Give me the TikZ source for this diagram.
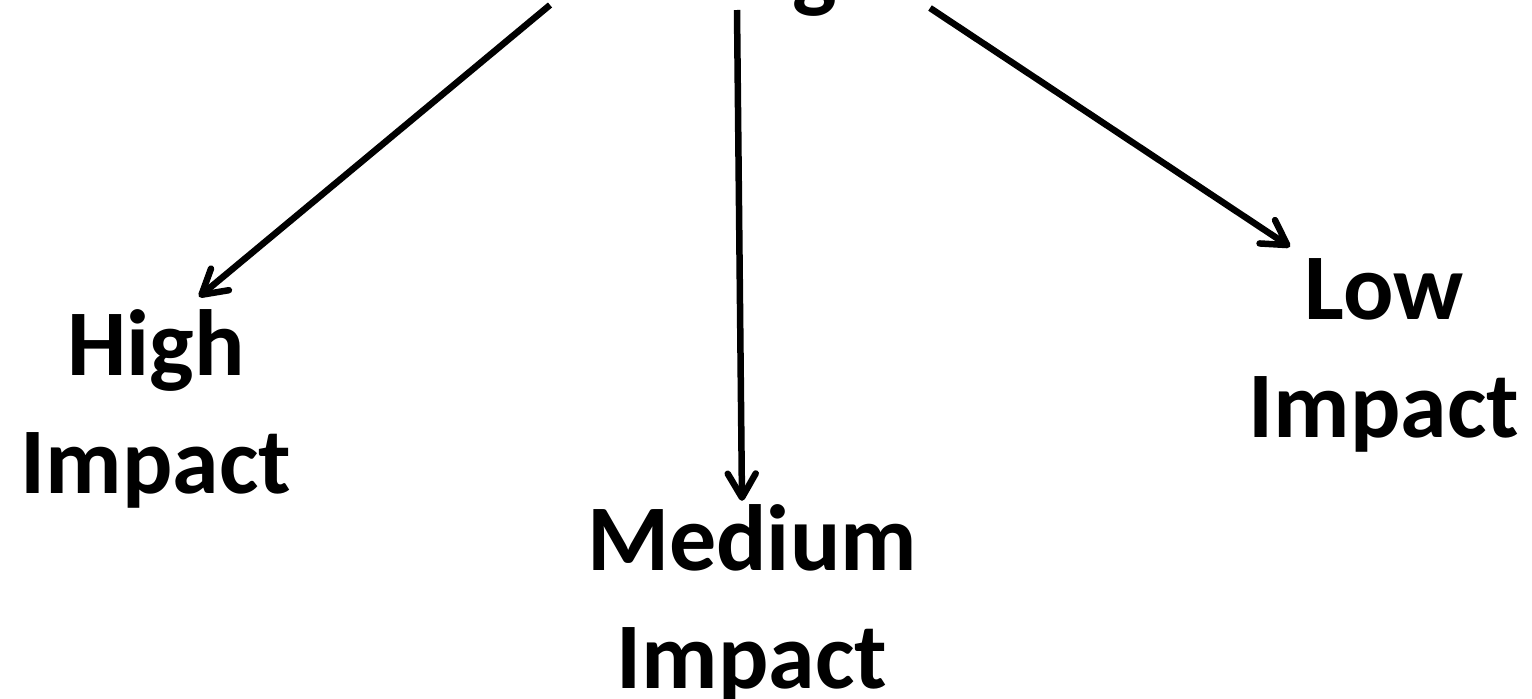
\documentclass[tikz,border=0pt]{standalone}
\usepackage{fontspec}
\setmainfont{Carlito}
\usetikzlibrary{arrows.meta}

\begin{document}
\begin{tikzpicture}[x=1pt, y=-1pt,
  impact/.style={align=center, anchor=base, inner sep=0pt,
    font=\fontsize{94}{118}\selectfont\bfseries},
  link/.style={-{Straight Barb[length=24pt, width=28pt, round]}, line width=6.5pt}]

  \useasboundingbox (0,0) rectangle (1532,699);

  % heading sits above the page, only its tail shows
  \node[impact] (head) at (815,0) {g};

  % base anchor = baseline of the second line
  \node[impact] (high) at (156,493) {High\\Impact};
  \node[impact] (medium) at (752,688) {Medium\\Impact};
  \node[impact] (low) at (1384,437) {Low\\Impact};

  % where the three arrows leave the heading
  \coordinate (fromhigh) at (550,5);
  \coordinate (frommed) at (737,10);
  \coordinate (fromlow) at (930,8);

  \draw[link] (fromhigh) -- ([xshift=43pt, yshift=12pt]high.north);
  \draw[link] (frommed) -- ([xshift=-10pt, yshift=3pt]medium.north);
  \draw[link] (fromlow) -- ([xshift=-94pt, yshift=11pt]low.north);
\end{tikzpicture}
\end{document}
